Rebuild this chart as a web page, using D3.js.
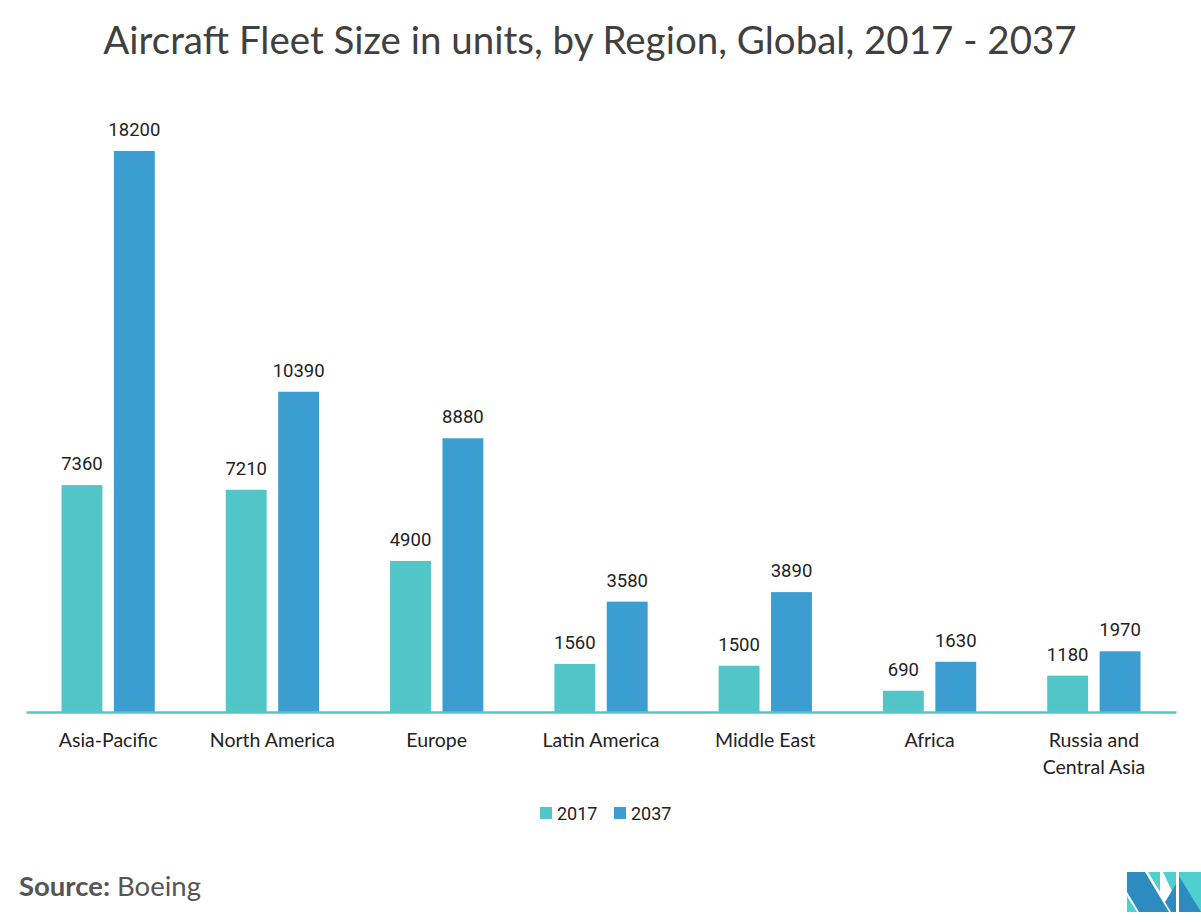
<!DOCTYPE html>
<html><head><meta charset="utf-8">
<script src="https://cdn.jsdelivr.net/npm/d3@7"></script>
<style>body{margin:0;background:#fff}svg{display:block}</style>
</head><body>
<svg id="c" width="1201" height="923"></svg>
<script>
const categories = ["Asia-Pacific","North America","Europe","Latin America","Middle East","Africa","Russia and Central Asia"];
const series = ["2017","2037"];
const values2017 = [7360,7210,4900,1560,1500,690,1180];
const values2037 = [18200,10390,8880,3580,3890,1630,1970];
const colors = ["#52c5c8","#3c9dd0"];

const svg = d3.select("#c");
const x0 = d3.scaleBand().domain(categories).range([26,1176]).paddingInner(0).paddingOuter(0);
const x1 = d3.scaleBand().domain(series).range([35.5,x0.bandwidth()-35.5]).paddingInner(0.22);
const y = d3.scaleLinear().domain([0,18200]).range([712,151]);

svg.append("text").attr("x",590).attr("y",54).attr("text-anchor","middle")
  .attr("font-family","Lato").attr("font-size",38.5).attr("fill","#404040")
  .text("Aircraft Fleet Size in units, by Region, Global, 2017 - 2037");

const data = categories.map((c,i)=>({c, v:[values2017[i],values2037[i]]}));
const g = svg.append("g");
const grp = g.selectAll("g.grp").data(data).join("g").attr("transform",d=>`translate(${x0(d.c)},0)`);
grp.selectAll("rect").data(d=>d.v.map((v,j)=>({s:series[j],v,j}))).join("rect")
  .attr("x",d=>x1(d.s)).attr("width",x1.bandwidth())
  .attr("y",d=>y(d.v)).attr("height",d=>y(0)-y(d.v)).attr("fill",d=>colors[d.j]);
grp.selectAll("text.lbl").data(d=>d.v.map((v,j)=>({s:series[j],v,j}))).join("text")
  .attr("class","lbl").attr("x",d=>x1(d.s)+x1.bandwidth()/2).attr("y",d=>y(d.v)-15)
  .attr("text-anchor","middle").attr("font-family","Roboto").attr("font-size",18.5).attr("fill","#222")
  .text(d=>d.v);

// axis
const ax = svg.append("g").attr("transform","translate(0,712)").call(d3.axisBottom(x0).tickSize(0).tickPadding(0));
ax.select(".domain").attr("stroke","#5bc4c8").attr("stroke-width",2.5);
ax.selectAll(".tick text").remove();
const labelLines = {"Russia and Central Asia":["Russia and","Central Asia"]};
ax.selectAll(".tick").each(function(d){
  const lines = labelLines[d]||[d];
  const t = d3.select(this).append("text").attr("fill","#222").attr("font-family","Lato").attr("font-size",19.5)
    .attr("text-anchor","middle");
  lines.forEach((l,i)=>t.append("tspan").attr("x",0).attr("y",35+i*27).text(l));
});

// legend
const leg = svg.append("g");
const legX=[540,614];
series.forEach((s,i)=>{
  leg.append("rect").attr("x",legX[i]).attr("y",807).attr("width",12).attr("height",12).attr("fill",colors[i]);
  leg.append("text").attr("x",legX[i]+17).attr("y",820).attr("font-family","Roboto").attr("font-size",18).attr("fill","#222").text(s);
});

// source
const src = svg.append("text").attr("x",19).attr("y",896).attr("font-family","Lato").attr("font-size",27.5).attr("fill","#555");
src.append("tspan").attr("font-weight","bold").text("Source:");
src.append("tspan").text(" Boeing");

// logo
const lg = svg.append("g").attr("transform","translate(1127,872)");
lg.append("path").attr("d","M0,0 L18,0 L42,40 L12,40 L0,20 Z").attr("fill","#2e8bc0");
lg.append("path").attr("d","M0,24 L10,40 L0,40 Z").attr("fill","#4fcfd0");
lg.append("path").attr("d","M21,0 L33,0 L33,20 Z").attr("fill","#4fcfd0");
lg.append("path").attr("d","M36,0 L49,0 L49,28 Z").attr("fill","#4fcfd0");
lg.append("path").attr("d","M52,0 L74,0 L74,40 L52,40 Z").attr("fill","#4fcfd0");
lg.append("path").attr("d","M52,4 L74,40 L52,40 Z").attr("fill","#2e8bc0");
lg.append("path").attr("d","M38,30 L49,12 L49,40 L44,40 Z").attr("fill","#2e8bc0");
</script>
</body></html>
